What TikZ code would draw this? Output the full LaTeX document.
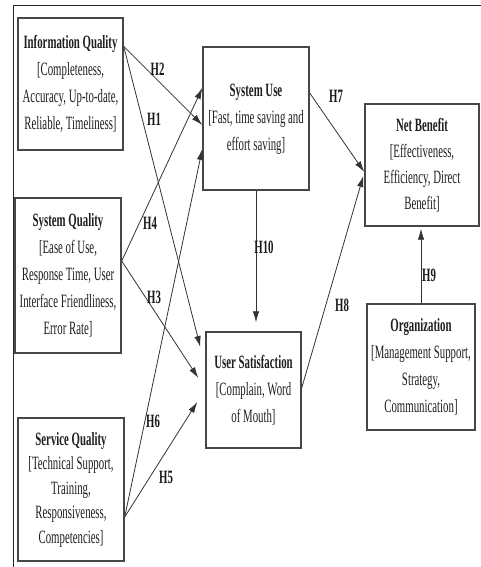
\documentclass[tikz,border=0pt]{standalone}
\usepackage{fontspec}
\usepackage{graphicx}
\setmainfont{Liberation Serif}
\usetikzlibrary{arrows.meta}
\newcommand{\boxtext}[2][27]{\scalebox{0.575}[1]{\fontsize{18.8}{#1}\selectfont\begin{tabular}{@{}c@{}}#2\end{tabular}}}
\newcommand{\hlab}[1]{\scalebox{0.575}[1]{\fontsize{18.8}{22}\selectfont\bfseries #1}}
\tikzset{
  box/.style={draw=black!72, line width=1.4pt, rectangle, inner sep=0pt, text=black!88},
  arr/.style={draw=black!80, line width=0.8pt, -{Latex[length=11pt,width=6.5pt]}},
  hyp/.style={inner sep=0pt, text=black!90},
  frame/.style={draw=black!85, line width=1pt}
}
\begin{document}
\begin{tikzpicture}[x=1pt,y=-1pt]
\useasboundingbox (0,0) rectangle (480,567);
\draw[frame] (13,568) -- (13,6) -- (481,6);

\node[box, minimum width=105pt, minimum height=132pt] (iq) at (70.5,84)
  {\boxtext{\textbf{Information Quality}\\ {[}Completeness,\\ Accuracy, Up-to-date,\\ Reliable, Timeliness]}};
\node[box, minimum width=106pt, minimum height=155pt] (sq) at (68,275.5)
  {\boxtext{\textbf{System Quality}\\ {[}Ease of Use,\\ Response Time, User\\ Interface Friendliness,\\ Error Rate]}};
\node[box, minimum width=106pt, minimum height=143pt] (sv) at (71,489.5)
  {\boxtext[24.5]{\textbf{Service Quality}\\ {[}Technical Support,\\ Training,\\ Responsiveness,\\ Competencies]}};
\node[box, minimum width=106pt, minimum height=143pt] (su) at (256,118.5)
  {\boxtext[27]{\textbf{System Use}\\ {[}Fast, time saving and\\ effort saving]}};
\node[box, minimum width=95pt, minimum height=116pt] (us) at (253.5,390)
  {\boxtext{\textbf{User Satisfaction}\\ {[}Complain, Word\\ of Mouth]}};
\node[box, minimum width=114pt, minimum height=122pt] (nb) at (422,165)
  {\boxtext[26]{\textbf{Net Benefit}\\ {[}Effectiveness,\\ Efficiency, Direct\\ Benefit]}};
\node[box, minimum width=108pt, minimum height=126pt] (org) at (421,367)
  {\boxtext{\textbf{Organization}\\ {[}Management Support,\\ Strategy,\\ Communication]}};

% connectors
\draw[arr] ([yshift=-29pt]iq.north east) -- ([yshift=-6.5pt]su.west);
\draw[arr] ([yshift=-29pt]iq.north east) -- ([xshift=-5pt,yshift=43pt]us.west);
\draw[arr] ([yshift=14.5pt]sq.east) -- ([yshift=30.5pt]su.west);
\draw[arr] ([yshift=14.5pt]sq.east) -- ([xshift=-7pt,yshift=12pt]us.west);
\draw[arr] ([yshift=-27.5pt]sv.east) -- ([yshift=-30.5pt]su.west);
\draw[arr] ([yshift=-27.5pt]sv.east) -- ([xshift=-8pt,yshift=-12pt]us.west);
\draw[arr] ([yshift=25.5pt]su.east) -- ([yshift=-7pt]nb.west);
\draw[arr] ([yshift=2pt]us.east) -- ([xshift=-1pt,yshift=-11pt]nb.west);
\draw[arr, shorten >=9pt] (su.south) -- (su.south |- us.north);
\draw[arr, shorten >=2pt] (org.north) -- (org.north |- nb.south);

% hypothesis labels
\node[hyp] (h2) at (157.5,69) {\hlab{H2}};
\node[hyp] (h1) at (154,119) {\hlab{H1}};
\node[hyp] (h4) at (150,223) {\hlab{H4}};
\node[hyp] (h3) at (154,297) {\hlab{H3}};
\node[hyp] (h6) at (153,421) {\hlab{H6}};
\node[hyp] (h5) at (166,477) {\hlab{H5}};
\node[hyp] (h7) at (336,96) {\hlab{H7}};
\node[hyp] (h10) at (264,247) {\hlab{H10}};
\node[hyp] (h8) at (342,305) {\hlab{H8}};
\node[hyp] (h9) at (429,275) {\hlab{H9}};
\end{tikzpicture}
\end{document}
